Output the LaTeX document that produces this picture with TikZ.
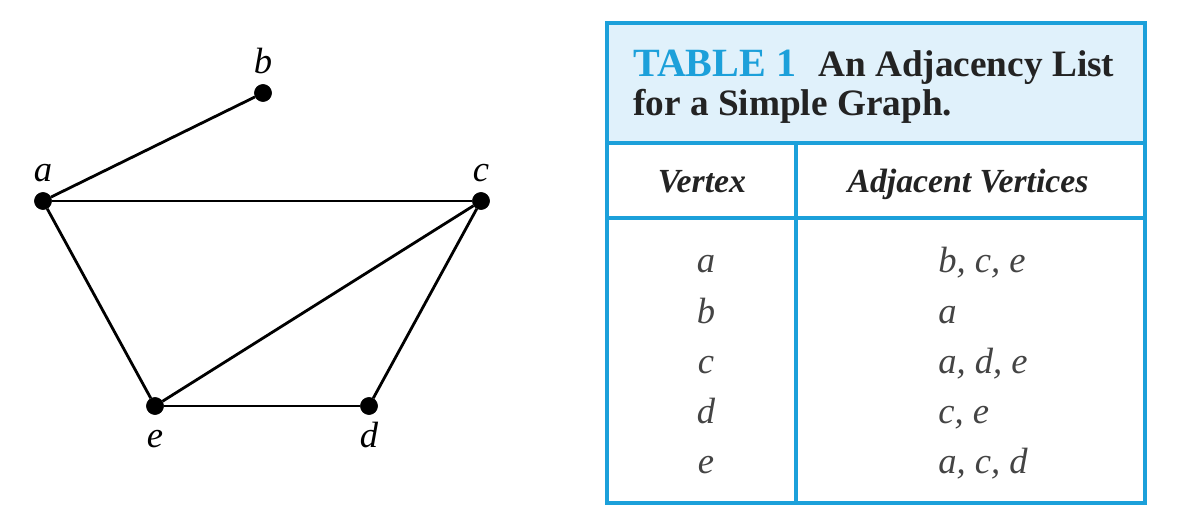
\documentclass[tikz,border=0pt]{standalone}
\usepackage{fontspec}
\setmainfont{Liberation Serif}
\usepackage{xcolor}
\definecolor{tblblue}{RGB}{28,160,218}
\definecolor{tblfill}{RGB}{224,241,251}
\definecolor{ink}{RGB}{35,35,35}
\begin{document}
\begin{tikzpicture}[x=0.025cm,y=-0.025cm,vtx/.style={draw,circle,fill=black,minimum size=0.43cm,inner sep=0},edge/.style={line width=2pt},
lbl/.style={anchor=base,inner sep=0,font=\fontsize{26}{30}\selectfont\itshape},
ttl/.style={anchor=base west,inner sep=0,text=ink,font=\fontsize{26.5}{30}\selectfont\bfseries},
colhd/.style={anchor=base,inner sep=0,text=ink,font=\fontsize{24}{28}\selectfont\bfseries\itshape},
cell/.style={inner sep=0,text=ink!85,font=\fontsize{26}{30}\selectfont\itshape},rule/.style={tblblue,line width=2.2pt}]
\useasboundingbox (0,0) rectangle (1178,531);
% graph
\node[vtx] (a) at (43,201){}; \node[vtx] (b) at (263,93){}; \node[vtx] (c) at (481,201){};\node[vtx] (e) at (155,406){}; \node[vtx] (d) at (369,406){};
\node[lbl] (la) at (43,182){a}; \node[lbl] (lb) at (263,74){b}; \node[lbl] (lc) at (481,182){c};\node[lbl] (le) at (155,447){e}; \node[lbl] (ld) at (369,447){d};
\draw[edge] (a)--(b); \draw[edge] (a)--(c); \draw[edge] (a)--(e); \draw[edge] (c)--(e); \draw[edge] (c)--(d); \draw[edge] (e)--(d);
% table
\fill[tblfill] (607,23) rectangle (1145,143);
\draw[rule] (607,23) rectangle (1145,503); \draw[rule] (607,143)--(1145,143); \draw[rule] (607,218)--(1145,218); \draw[rule] (796,143)--(796,503);
\node[ttl,text=tblblue,font=\fontsize{28.5}{30}\selectfont\bfseries] (tnum) at (633,77){TABLE 1}; \node[ttl] (ttop) at (818,77){An Adjacency List}; \node[ttl] (tbot) at (633,116){for a Simple Graph.};
\node[colhd] (hv) at (702,193){Vertex}; \node[colhd] (hadj) at (968,193){Adjacent Vertices};
\node[cell,anchor=base] (v1) at (706,273){a}; \node[cell,anchor=base west] (n1) at (938,273){b, c, e};
\node[cell,anchor=base] (v2) at (706,323){b}; \node[cell,anchor=base west] (n2) at (938,323){a};
\node[cell,anchor=base] (v3) at (706,373){c}; \node[cell,anchor=base west] (n3) at (938,373){a, d, e};
\node[cell,anchor=base] (v4) at (706,423){d}; \node[cell,anchor=base west] (n4) at (938,423){c, e};
\node[cell,anchor=base] (v5) at (706,473){e}; \node[cell,anchor=base west] (n5) at (938,473){a, c, d};
\end{tikzpicture}
\end{document}
